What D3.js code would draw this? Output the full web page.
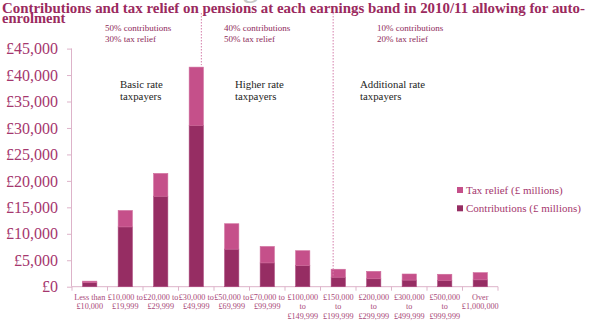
<!DOCTYPE html>
<html>
<head>
<meta charset="utf-8">
<script src="https://cdn.jsdelivr.net/npm/d3@7/dist/d3.min.js"></script>
<style>
  html, body { margin: 0; padding: 0; background: #fff; }
  svg { display: block; }
  text { font-family: "Liberation Serif", "Times New Roman", serif; }
</style>
</head>
<body>
<svg id="chart" width="590" height="327"></svg>
<script>
// Earnings bands (each label split into its printed lines)
const bands = [
  ["Less than", "£10,000"],
  ["£10,000 to", "£19,999"],
  ["£20,000 to", "£29,999"],
  ["£30,000 to", "£49,999"],
  ["£50,000 to", "£69,999"],
  ["£70,000 to", "£99,999"],
  ["£100,000", "to", "£149,999"],
  ["£150,000", "to", "£199,999"],
  ["£200,000", "to", "£299,999"],
  ["£300,000", "to", "£499,999"],
  ["£500,000", "to", "£999,999"],
  ["Over", "£1,000,000"]
];
// £ millions
const contributions = [750, 11300, 17100, 30500, 7100, 4500, 4000, 1800, 1500, 1250, 1200, 1300];
const taxRelief     = [300, 3100, 4300, 11000, 4800, 3100, 2800, 1500, 1400, 1150, 1150, 1350];
const yTicks = [0, 5000, 10000, 15000, 20000, 25000, 30000, 35000, 40000, 45000];
const seriesNames = ["Tax relief (£ millions)", "Contributions (£ millions)"];

const titleLines = [
  "Contributions and tax relief on pensions at each earnings band in 2010/11 allowing for auto-",
  "enrolment"
];
const rateNotes = [
  ["50% contributions", "30% tax relief"],
  ["40% contributions", "50% tax relief"],
  ["10% contributions", "20% tax relief"]
];
const groupLabels = [
  ["Basic rate", "taxpayers"],
  ["Higher rate", "taxpayers"],
  ["Additional rate", "taxpayers"]
];

const colContrib = "#962d63";
const colRelief = "#c5508a";
const colAxis = "#ddb3c9";
const colText = "#a5376e";

const svg = d3.select("#chart");
const keys = bands.map((b, i) => "b" + i);

const x = d3.scaleBand().domain(keys).range([72, 498]).paddingInner(0.6).paddingOuter(0.3);
const y = d3.scaleLinear().domain([0, 45000]).range([286.7, 48.6]);

// faint stray heading glyph at the very top
svg.append("text").attr("x", 243).attr("y", -3)
  .attr("font-size", 30).attr("font-weight", "bold").attr("fill", "#c8c8c8").text("g");

// Title
svg.selectAll("text.title").data(titleLines).join("text")
  .attr("class", "title")
  .attr("x", 2).attr("y", (d, i) => 12.5 + i * 10.3)
  .attr("font-size", 14.5).attr("font-weight", "bold").attr("fill", "#9b2a5e")
  .each(function(d, i) {
    if (i === 0) d3.select(this).attr("textLength", 583).attr("lengthAdjust", "spacingAndGlyphs");
  })
  .text(d => d);

// Y axis
const yAxis = d3.axisLeft(y).tickValues(yTicks).tickSize(5).tickPadding(9)
  .tickFormat(d => "£" + d3.format(",")(d));
const gy = svg.append("g").attr("transform", "translate(72,0)").call(yAxis);
gy.select(".domain").attr("stroke", colAxis).attr("d", `M-0.5,${y(45000)}V${y(0)}`);
gy.selectAll(".tick line").attr("stroke", colAxis);
gy.selectAll(".tick text").attr("fill", colText).attr("font-size", 16)
  .attr("font-family", "Liberation Serif, serif");

// X axis: ticks at band boundaries
const gx = svg.append("g").attr("transform", `translate(0,${y(0)})`);
gx.append("line").attr("x1", 72).attr("x2", 498).attr("y1", 0).attr("y2", 0).attr("stroke", colAxis);
const step = x.step();
const bounds = d3.range(bands.length + 1).map(i => x(keys[0]) - step * x.paddingOuter() + i * step);
gx.selectAll("line.tk").data(bounds).join("line").attr("class", "tk")
  .attr("x1", d => d).attr("x2", d => d).attr("y1", 0).attr("y2", 4).attr("stroke", colAxis);

// Category labels
const lab = svg.append("g");
bands.forEach((lines, i) => {
  const cx = x(keys[i]) + x.bandwidth() / 2;
  lines.forEach((ln, j) => {
    lab.append("text").attr("x", cx).attr("y", 299.5 + j * 9.7)
      .attr("text-anchor", "middle").attr("font-size", 8.2).attr("fill", "#a94a7a").text(ln);
  });
});

// Stacked bars
const bars = svg.append("g");
bars.selectAll("rect.c").data(contributions).join("rect").attr("class", "c")
  .attr("x", (d, i) => x(keys[i])).attr("width", x.bandwidth())
  .attr("y", d => y(d)).attr("height", d => y(0) - y(d))
  .attr("fill", colContrib).attr("stroke", "#a9457a").attr("stroke-width", 0.6);
bars.selectAll("rect.r").data(taxRelief).join("rect").attr("class", "r")
  .attr("x", (d, i) => x(keys[i])).attr("width", x.bandwidth())
  .attr("y", (d, i) => y(contributions[i] + d)).attr("height", (d, i) => y(contributions[i]) - y(contributions[i] + d))
  .attr("fill", colRelief).attr("stroke", "#cf6b9b").attr("stroke-width", 0.6);

// Dotted dividers between tax bands
const dividers = [
  { x: x(keys[3]) + x.bandwidth() - 2, y2: y(contributions[3] + taxRelief[3]) - 2 },
  { x: x(keys[7]) + 2, y2: y(contributions[7]) }
];
svg.selectAll("line.div").data(dividers).join("line").attr("class", "div")
  .attr("x1", d => d.x).attr("x2", d => d.x).attr("y1", 13).attr("y2", d => d.y2)
  .attr("stroke", "#d47fab").attr("stroke-width", 1).attr("stroke-dasharray", "1.5,1.5");

// Rate notes
const noteX = [105, 224, 377];
rateNotes.forEach((lines, i) => {
  lines.forEach((ln, j) => {
    svg.append("text").attr("x", noteX[i]).attr("y", 31 + j * 10.5)
      .attr("font-size", 9).attr("fill", "#8e2a5a").text(ln);
  });
});

// Group labels
const groupX = [120, 235, 360];
groupLabels.forEach((lines, i) => {
  lines.forEach((ln, j) => {
    svg.append("text").attr("x", groupX[i]).attr("y", 88 + j * 11.5)
      .attr("font-size", 10.8).attr("fill", "#1e1e1e").text(ln);
  });
});

// Legend
const legColors = [colRelief, colContrib];
seriesNames.forEach((name, i) => {
  const ly = 190 + i * 18.3;
  svg.append("rect").attr("x", 457).attr("y", ly - 3).attr("width", 6).attr("height", 6).attr("fill", legColors[i]);
  svg.append("text").attr("x", 466).attr("y", ly + 3.8).attr("font-size", 11).attr("fill", colText).text(name);
});
</script>
</body>
</html>
